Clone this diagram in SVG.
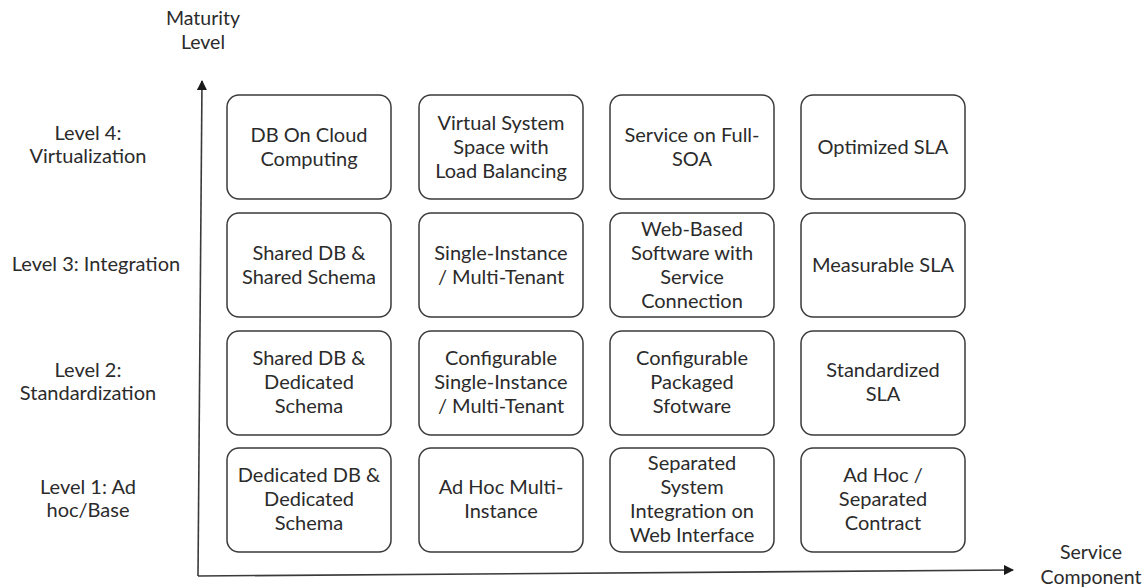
<svg xmlns="http://www.w3.org/2000/svg" width="1143" height="588" viewBox="0 0 1143 588">
<style>
.box{fill:#fff;stroke:#3a3a3a;stroke-width:1.5}
text{font-family:Lato,"Liberation Sans",sans-serif;font-size:20px;fill:#2b2b2b;text-anchor:middle}
.ax{fill:none;stroke:#3a3a3a;stroke-width:1.6}
.lbl{font-size:19.5px}
</style>
<defs>
<marker id="ah" viewBox="0 0 10 10" refX="9" refY="5" markerWidth="10" markerHeight="10" markerUnits="userSpaceOnUse" orient="auto">
<path d="M0,0 L10,5 L0,10 Z" fill="#1a1a1a"/>
</marker>
</defs>
<rect width="1143" height="588" fill="#fff"/>
<g id="connectors">
<path class="ax" d="M198,576 L202,81" marker-end="url(#ah)"/>
<path class="ax" d="M198,576 L1013,570" marker-end="url(#ah)"/>
</g>
<g id="axis-labels">
<text class="lbl" x="203" y="25">Maturity</text>
<text class="lbl" x="203" y="49">Level</text>
<text class="lbl" x="1091" y="559">Service</text>
<text class="lbl" x="1091" y="584">Component</text>
</g>
<g id="level-labels">
<text x="88" y="140">Level 4:</text>
<text x="88" y="163">Virtualization</text>
<text x="96" y="271">Level 3: Integration</text>
<text x="88" y="377">Level 2:</text>
<text x="88" y="400">Standardization</text>
<text x="88" y="494">Level 1: Ad</text>
<text x="88" y="517">hoc/Base</text>
</g>
<g id="n11"><rect class="box" x="227" y="95" width="164" height="104" rx="12"/><text x="309" y="141.5">DB On Cloud</text><text x="309" y="165.5">Computing</text></g>
<g id="n12"><rect class="box" x="419" y="95" width="164" height="104" rx="12"/><text x="501" y="130">Virtual System</text><text x="501" y="154">Space with</text><text x="501" y="178">Load Balancing</text></g>
<g id="n13"><rect class="box" x="610" y="95" width="164" height="104" rx="12"/><text x="692" y="141.5">Service on Full-</text><text x="692" y="165.5">SOA</text></g>
<g id="n14"><rect class="box" x="801" y="95" width="164" height="104" rx="12"/><text x="883" y="153.5">Optimized SLA</text></g>
<g id="n21"><rect class="box" x="227" y="213" width="164" height="104" rx="12"/><text x="309" y="259.5">Shared DB &amp;</text><text x="309" y="283.5">Shared Schema</text></g>
<g id="n22"><rect class="box" x="419" y="213" width="164" height="104" rx="12"/><text x="501" y="259.5">Single-Instance</text><text x="501" y="283.5">/ Multi-Tenant</text></g>
<g id="n23"><rect class="box" x="610" y="213" width="164" height="104" rx="12"/><text x="692" y="235.5">Web-Based</text><text x="692" y="259.5">Software with</text><text x="692" y="283.5">Service</text><text x="692" y="307.5">Connection</text></g>
<g id="n24"><rect class="box" x="801" y="213" width="164" height="104" rx="12"/><text x="883" y="271.5">Measurable SLA</text></g>
<g id="n31"><rect class="box" x="227" y="331" width="164" height="104" rx="12"/><text x="309" y="365">Shared DB &amp;</text><text x="309" y="389">Dedicated</text><text x="309" y="413">Schema</text></g>
<g id="n32"><rect class="box" x="419" y="331" width="164" height="104" rx="12"/><text x="501" y="365">Configurable</text><text x="501" y="389">Single-Instance</text><text x="501" y="413">/ Multi-Tenant</text></g>
<g id="n33"><rect class="box" x="610" y="331" width="164" height="104" rx="12"/><text x="692" y="365">Configurable</text><text x="692" y="389">Packaged</text><text x="692" y="413">Sfotware</text></g>
<g id="n34"><rect class="box" x="801" y="331" width="164" height="104" rx="12"/><text x="883" y="377">Standardized</text><text x="883" y="401">SLA</text></g>
<g id="n41"><rect class="box" x="227" y="448" width="164" height="104" rx="12"/><text x="309" y="482">Dedicated DB &amp;</text><text x="309" y="506">Dedicated</text><text x="309" y="530">Schema</text></g>
<g id="n42"><rect class="box" x="419" y="448" width="164" height="104" rx="12"/><text x="501" y="494">Ad Hoc Multi-</text><text x="501" y="518">Instance</text></g>
<g id="n43"><rect class="box" x="610" y="448" width="164" height="104" rx="12"/><text x="692" y="470">Separated</text><text x="692" y="494">System</text><text x="692" y="518">Integration on</text><text x="692" y="542">Web Interface</text></g>
<g id="n44"><rect class="box" x="801" y="448" width="164" height="104" rx="12"/><text x="883" y="482">Ad Hoc /</text><text x="883" y="506">Separated</text><text x="883" y="530">Contract</text></g>
</svg>
